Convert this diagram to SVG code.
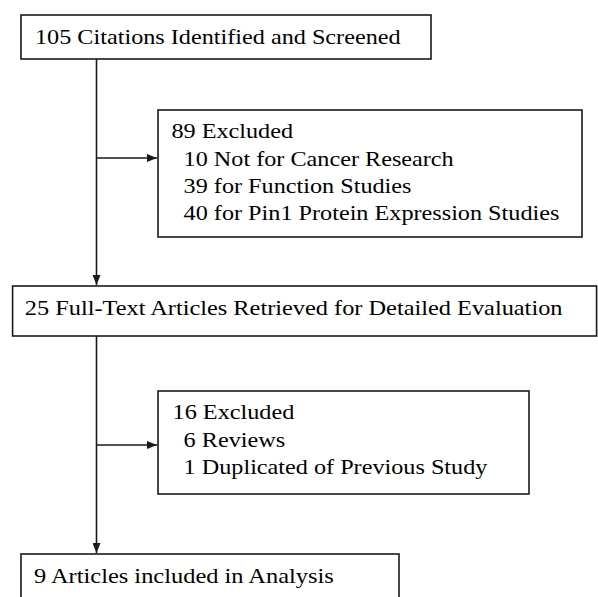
<svg xmlns="http://www.w3.org/2000/svg" width="598" height="597" viewBox="0 0 598 597">
<defs>
<style>
.box{fill:#fff;stroke:#1a1a1a;stroke-width:1.6}
.t{font-family:'Liberation Serif','Times New Roman',Times,serif;font-size:22px;fill:#000}
.ln{fill:none;stroke:#1a1a1a;stroke-width:1.6}
</style>
<marker id="ah" viewBox="0 0 10 8" refX="10" refY="4" markerWidth="10" markerHeight="8" markerUnits="userSpaceOnUse" orient="auto">
<path d="M0,0 L10,4 L0,8 Z" fill="#1a1a1a"/>
</marker>
</defs>
<rect width="598" height="597" fill="#fff"/>
<g id="connectors">
<line class="ln" x1="96.5" y1="59" x2="96.5" y2="285" marker-end="url(#ah)"/>
<line class="ln" x1="96.5" y1="158" x2="157" y2="158" marker-end="url(#ah)"/>
<line class="ln" x1="96.5" y1="336" x2="96.5" y2="553" marker-end="url(#ah)"/>
<line class="ln" x1="96.5" y1="445" x2="157" y2="445" marker-end="url(#ah)"/>
</g>
<g id="n1">
<rect class="box" x="21" y="15" width="410" height="44"/>
<text class="t" x="35" y="43.5" textLength="365.6" lengthAdjust="spacingAndGlyphs">105 Citations Identified and Screened</text>
</g>
<g id="n2">
<rect class="box" x="158" y="110" width="424" height="127"/>
<text class="t" x="171.4" y="138.3" textLength="121.7" lengthAdjust="spacingAndGlyphs">89 Excluded</text>
<text class="t" x="183.6" y="165.5" textLength="270.1" lengthAdjust="spacingAndGlyphs">10 Not for Cancer Research</text>
<text class="t" x="183.6" y="192.7" textLength="227.9" lengthAdjust="spacingAndGlyphs">39 for Function Studies</text>
<text class="t" x="183.6" y="220" textLength="375.8" lengthAdjust="spacingAndGlyphs">40 for Pin1 Protein Expression Studies</text>
</g>
<g id="n3">
<rect class="box" x="12.6" y="286" width="584" height="50"/>
<text class="t" x="24.8" y="315" textLength="537.7" lengthAdjust="spacingAndGlyphs">25 Full-Text Articles Retrieved for Detailed Evaluation</text>
</g>
<g id="n4">
<rect class="box" x="158" y="391" width="371" height="103"/>
<text class="t" x="172.6" y="419.3" textLength="121.7" lengthAdjust="spacingAndGlyphs">16 Excluded</text>
<text class="t" x="183.6" y="446.7" textLength="101.5" lengthAdjust="spacingAndGlyphs">6 Reviews</text>
<text class="t" x="183.6" y="474.3" textLength="303.8" lengthAdjust="spacingAndGlyphs">1 Duplicated of Previous Study</text>
</g>
<g id="n5">
<rect class="box" x="21" y="554" width="378" height="50"/>
<text class="t" x="34" y="582.7" textLength="299.8" lengthAdjust="spacingAndGlyphs">9 Articles included in Analysis</text>
</g>
</svg>
